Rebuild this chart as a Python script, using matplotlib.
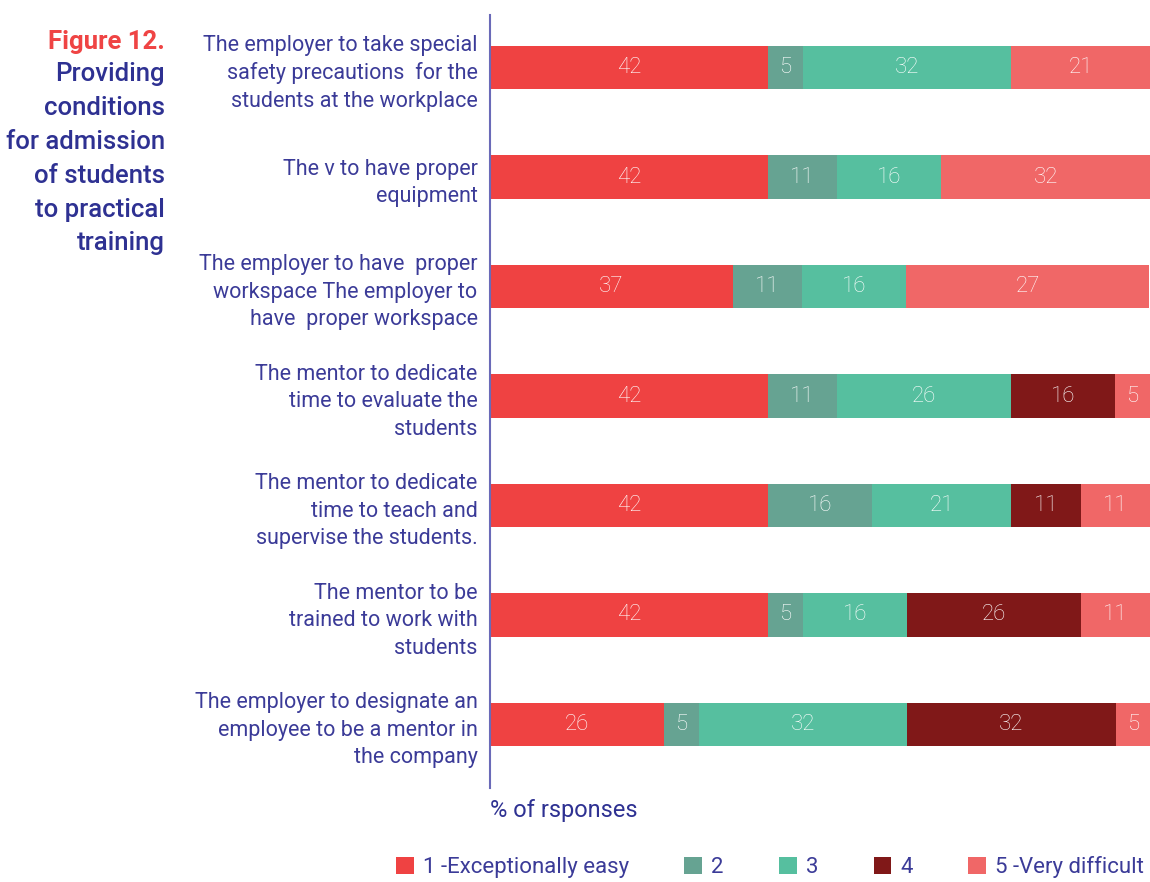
import matplotlib.pyplot as plt
import numpy as np

# categories, top to bottom
categories = [
    "The employer to take special\nsafety precautions  for the\nstudents at the workplace",
    "The v to have proper\nequipment",
    "The employer to have  proper\nworkspace The employer to\nhave  proper workspace",
    "The mentor to dedicate\ntime to evaluate the\nstudents",
    "The mentor to dedicate\ntime to teach and\nsupervise the students.",
    "The mentor to be\ntrained to work with\nstudents",
    "The employer to designate an\nemployee to be a mentor in\nthe company",
]
series_names = ["1 -Exceptionally easy", "2", "3", "4", "5 -Very difficult"]

# segment widths (% of responses)
s1 = [42.1, 42.1, 36.8, 42.1, 42.1, 42.1, 26.3]
s2 = [5.3, 10.5, 10.5, 10.5, 15.8, 5.3, 5.3]
s3 = [31.6, 15.8, 15.8, 26.3, 21.1, 15.8, 31.6]
s4 = [0, 0, 0, 15.8, 10.5, 26.3, 31.6]
s5 = [21.1, 31.6, 36.8, 5.3, 10.5, 10.5, 5.3]

# numbers printed on the bars
l1 = [42, 42, 37, 42, 42, 42, 26]
l2 = [5, 11, 11, 11, 16, 5, 5]
l3 = [32, 16, 16, 26, 21, 16, 32]
l4 = [None, None, None, 16, 11, 26, 32]
l5 = [21, 32, 27, 5, 11, 11, 5]

colors = ["#ef4242", "#66a392", "#56bf9f", "#801818", "#f06767"]
navy = "#3b3b98"
plt.rcParams['font.family'] = ['Roboto', 'DejaVu Sans']

fig = plt.figure(figsize=(11.5, 8.82), dpi=100)
ax = fig.add_axes([0.4261, 0.1066, 0.5739, 0.8764])

y = np.arange(len(categories))
left = np.zeros(len(categories))
for vals, labs, col, name in zip([s1, s2, s3, s4, s5], [l1, l2, l3, l4, l5],
                                 colors, series_names):
    vals = np.array(vals)
    bars = ax.barh(y, vals, left=left, height=0.4, color=col, label=name)
    for b, v, lab in zip(bars, vals, labs):
        if lab is not None and v > 0:
            ax.text(b.get_x() + b.get_width() / 2, b.get_y() + b.get_height() / 2,
                    str(lab), ha='center', va='center', color='white',
                    fontsize=16, fontweight='light')
    left += vals

ax.set_xlim(0, 100)
ax.set_ylim(6.58, -0.48)
ax.set_yticks(y)
ax.set_yticklabels(categories, fontsize=15.5, color=navy, linespacing=1.4)
ax.tick_params(axis='y', length=0, pad=9)
ax.set_xticks([])
for s in ['top', 'right', 'bottom']:
    ax.spines[s].set_visible(False)
ax.spines['left'].set_color('#6a6ab8')
ax.spines['left'].set_linewidth(1.5)

ax.set_xlabel("% of rsponses", fontsize=17, color="#2e3192", loc='left',
              labelpad=8)

# title block on the left
fig.text(165 / 1150, 1 - 42 / 882, "Figure 12.", ha='right', va='center',
         fontsize=18.5, fontweight='bold', color="#ef4444")
fig.text(165 / 1150, 1 - 62 / 882,
         "Providing\nconditions\nfor admission\nof students\nto practical\ntraining",
         ha='right', va='top', fontsize=18.5, fontweight='medium', color="#2e3192",
         linespacing=1.52)

fig.legend(loc='lower right', bbox_to_anchor=(1.012, -0.018), ncol=5, frameon=False,
           fontsize=16, handlelength=0.8, handleheight=0.8, handletextpad=0.4,
           columnspacing=2.5, labelcolor=navy)

fig.savefig("out.png", dpi=100)
